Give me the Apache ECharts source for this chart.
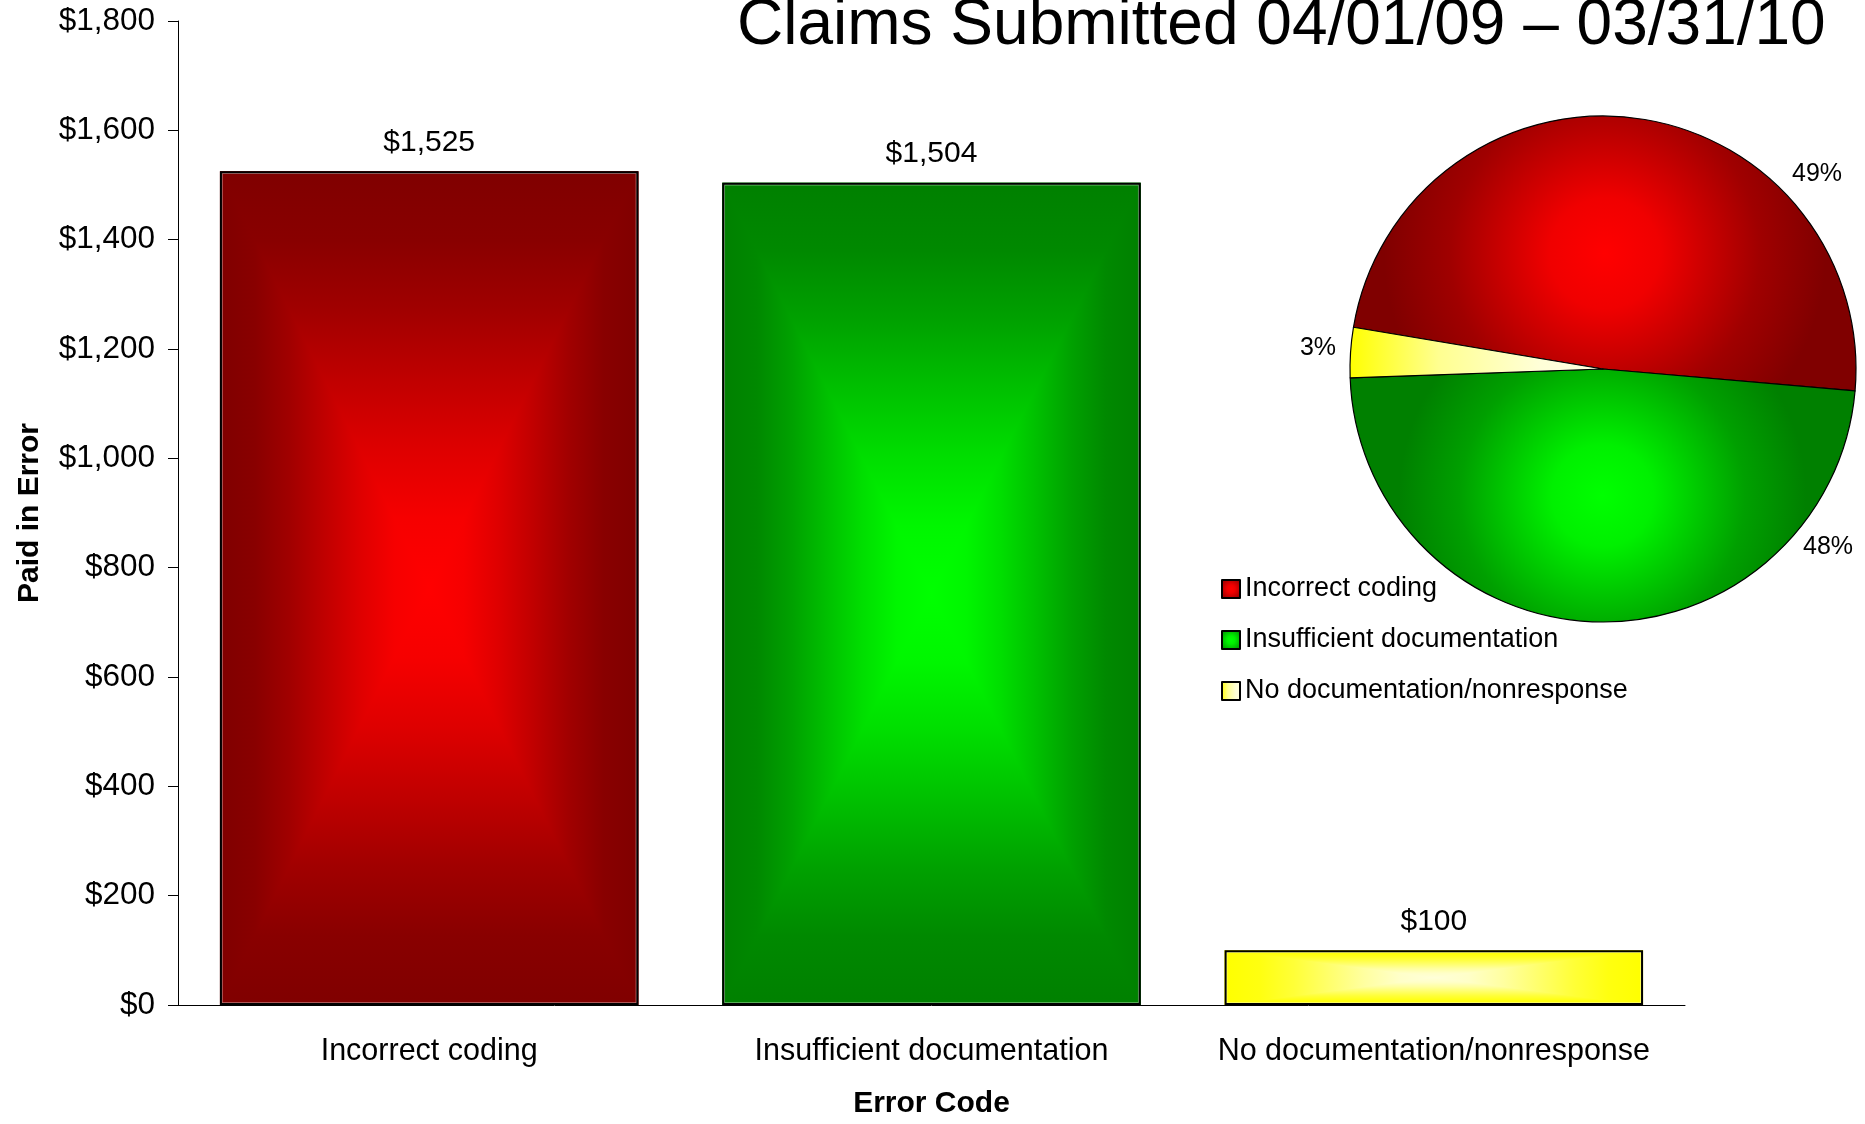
<!DOCTYPE html>
<html>
<head>
<meta charset="utf-8">
<title>Claims Submitted 04/01/09 – 03/31/10</title>
<script src="https://cdn.jsdelivr.net/npm/echarts@6/dist/echarts.min.js"></script>
<style>
  html, body { margin: 0; padding: 0; background: #fff; }
  #chart { width: 1865px; height: 1124px; }
</style>
</head>
<body>
<div id="chart"></div>
<script>
const errorCodes = ["Incorrect coding", "Insufficient documentation", "No documentation/nonresponse"];
const paidInError = [1525, 1504, 100];
const yMax = 1800;
const yStep = 200;

// edge / centre colours of the "from centre" fills
const edgeColors = ["#800000", "#008000", "#ffff00"];
const centerColors = ["#ff0000", "#00ff00", "#ffffd8"];

const font = "'Liberation Sans', Arial, sans-serif";
const money = v => "$" + v.toLocaleString("en-US");
const total = paidInError.reduce((a, b) => a + b, 0);
const barShare = 0.833;

const chart = echarts.init(document.getElementById("chart"));

// eased ramp edge -> centre (the Excel fill is not linear)
function ramp(i) {
  const out = [];
  for (let k = 0; k <= 6; k++) {
    const t = k / 6;
    const e = t * t * (3 - 2 * t);
    out.push({ offset: t, color: echarts.color.lerp(e, [edgeColors[i], centerColors[i]]) });
  }
  return out;
}

// rectangle gradient: four triangles meeting in the middle of the bar,
// over a horizontal fill so the seams don't show
function renderFill(params, api) {
  const i = params.dataIndex;
  const top = api.coord([api.value(0), api.value(1)]);
  const base = api.coord([api.value(0), 0]);
  const w = api.size([1, 0])[0] * barShare;
  const x0 = top[0] - w / 2, x1 = top[0] + w / 2;
  const y0 = top[1], y1 = base[1];
  const cx = top[0], cy = (y0 + y1) / 2;
  const stops = ramp(i);
  const grad = (ax, ay, bx, by) => new echarts.graphic.LinearGradient(ax, ay, bx, by, stops, true);
  const under = new echarts.graphic.LinearGradient(0, 0, 1, 0,
    stops.map(s => ({ offset: s.offset / 2, color: s.color }))
      .concat(stops.slice(0, 6).reverse().map(s => ({ offset: 1 - s.offset / 2, color: s.color }))));
  const tri = (pts, fill) => ({ type: "polygon", shape: { points: pts }, style: { fill: fill } });
  return {
    type: "group",
    children: [
      { type: "rect", shape: { x: x0, y: y0, width: w, height: y1 - y0 }, style: { fill: under } },
      tri([[x0, y0], [x1, y0], [cx, cy]], grad(cx, y0, cx, cy)),
      tri([[x0, y1], [x1, y1], [cx, cy]], grad(cx, y1, cx, cy)),
      tri([[x0, y0], [x0, y1], [cx, cy]], grad(x0, cy, cx, cy)),
      tri([[x1, y0], [x1, y1], [cx, cy]], grad(x1, cy, cx, cy)),
      {
        type: "rect",
        shape: { x: x0 + 2, y: y0 + 2, width: w - 4, height: y1 - y0 - 4 },
        style: { fill: null, stroke: "rgba(255,255,255,0.45)", lineWidth: 1.5 }
      }
    ]
  };
}

const pieFills = [
  new echarts.graphic.RadialGradient(0.5, 0.5, 0.8, [
    { offset: 0, color: "#ff0000" }, { offset: 0.25, color: "#f00000" },
    { offset: 0.7, color: "#a00000" }, { offset: 1, color: "#800000" }
  ]),
  new echarts.graphic.RadialGradient(0.5, 0.5, 0.8, [
    { offset: 0, color: "#00ff00" }, { offset: 0.25, color: "#00f000" },
    { offset: 0.7, color: "#00a000" }, { offset: 1, color: "#008000" }
  ]),
  new echarts.graphic.LinearGradient(0, 0, 1, 0, [
    { offset: 0, color: "#ffff00" }, { offset: 0.35, color: "#ffff90" },
    { offset: 0.75, color: "#ffffd8" }, { offset: 1, color: "#ffffe0" }
  ])
];
// where the pie percentages sit (Excel placement, not mid-angle)
const pieLabelSpots = [[1817, 174], [1828, 547], [1318, 348]];

chart.setOption({
  animation: false,
  backgroundColor: "#fff",
  textStyle: { fontFamily: font, color: "#000" },
  title: {
    text: "Claims Submitted 04/01/09 – 03/31/10",
    left: 737,
    top: -6,
    padding: 0,
    textStyle: { fontSize: 64, fontWeight: "normal", color: "#000", fontFamily: font, lineHeight: 64 }
  },
  legend: {
    data: errorCodes,
    orient: "vertical",
    left: 1216,
    top: 569,
    icon: "rect",
    itemWidth: 18,
    itemHeight: 18,
    itemGap: 21,
    textStyle: { fontSize: 27, lineHeight: 30, color: "#000", fontFamily: font },
    selectedMode: false
  },
  grid: { left: 178, right: 180, top: 21, bottom: 118 },
  xAxis: {
    type: "category",
    data: errorCodes,
    name: "Error Code",
    nameLocation: "middle",
    nameGap: 84,
    nameTextStyle: { fontSize: 30, fontWeight: "bold", color: "#000" },
    axisLine: { lineStyle: { color: "#000", width: 1 } },
    axisTick: { length: 10, lineStyle: { color: "#000" } },
    axisLabel: { interval: 0, fontSize: 30.5, color: "#000", margin: 31 }
  },
  yAxis: {
    type: "value",
    min: 0,
    max: yMax,
    interval: yStep,
    name: "Paid in Error",
    nameLocation: "middle",
    nameRotate: 90,
    nameGap: 133,
    nameTextStyle: { fontSize: 30, fontWeight: "bold", color: "#000" },
    axisLine: { show: true, lineStyle: { color: "#000", width: 1 } },
    axisTick: { show: true, length: 10, lineStyle: { color: "#000" } },
    axisLabel: { fontSize: 31.5, color: "#000", margin: 23, formatter: money },
    splitLine: { show: false }
  },
  series: [
    {
      name: "fill",
      type: "custom",
      renderItem: renderFill,
      encode: { x: 0, y: 1 },
      data: paidInError.map((v, i) => [i, v]),
      z: 2
    },
    {
      name: "paid",
      type: "bar",
      barCategoryGap: "16.7%",
      z: 3,
      data: paidInError,
      itemStyle: { color: "rgba(0,0,0,0)", borderColor: "#000", borderWidth: 2 },
      label: {
        show: true,
        position: "top",
        distance: 14,
        fontSize: 30,
        color: "#000",
        formatter: p => money(p.value)
      }
    },
    {
      name: "share",
      type: "pie",
      center: [1603, 369],
      radius: 253,
      startAngle: 170.5,
      clockwise: true,
      z: 5,
      itemStyle: { borderColor: "#000", borderWidth: 1.2 },
      label: {
        show: true,
        position: "outside",
        fontSize: 25,
        color: "#000",
        formatter: p => Math.round(p.value / total * 100) + "%"
      },
      labelLine: { show: false },
      labelLayout: p => ({
        x: pieLabelSpots[p.dataIndex][0],
        y: pieLabelSpots[p.dataIndex][1],
        align: "center",
        verticalAlign: "middle"
      }),
      emphasis: { disabled: true },
      data: errorCodes.map((name, i) => ({
        name: name,
        value: paidInError[i],
        itemStyle: { color: pieFills[i] }
      }))
    }
  ]
});
</script>
</body>
</html>
